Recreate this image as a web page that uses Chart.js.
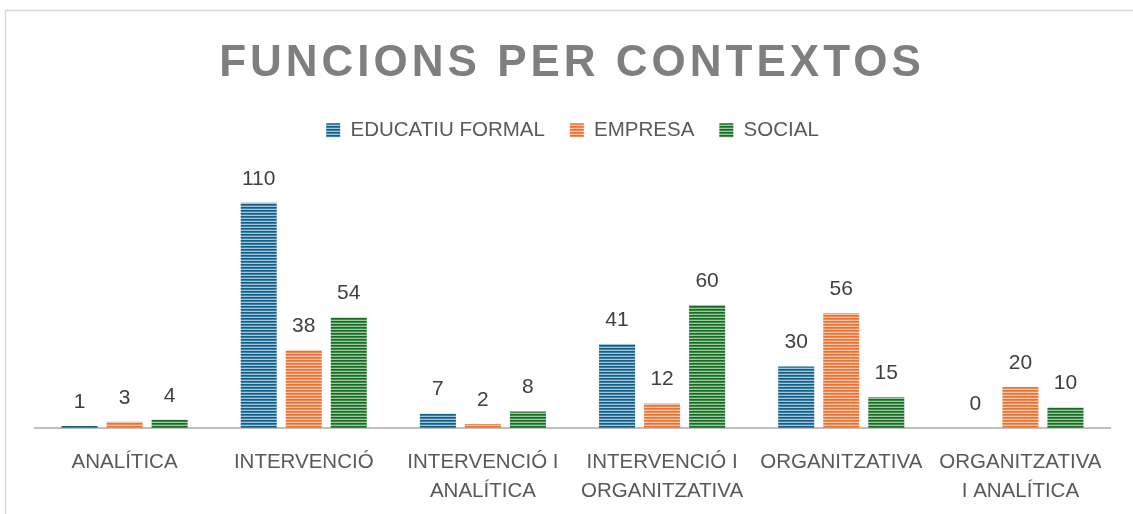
<!DOCTYPE html>
<html>
<head>
<meta charset="utf-8">
<script src="https://cdn.jsdelivr.net/npm/chart.js@4.4.1/dist/chart.umd.min.js"></script>
<style>
  html, body { margin: 0; padding: 0; background: #fff; }
  #wrap { width: 1133px; height: 514px; position: relative; }
</style>
</head>
<body>
<div id="wrap"><canvas id="myChart" width="1133" height="514"></canvas></div>
<script>
const titol = 'FUNCIONS PER CONTEXTOS';
const categories = [
    'ANALÍTICA',
    'INTERVENCIÓ',
    ['INTERVENCIÓ I', 'ANALÍTICA'],
    ['INTERVENCIÓ I', 'ORGANITZATIVA'],
    'ORGANITZATIVA',
    ['ORGANITZATIVA', 'I ANALÍTICA']
];
const series = ['EDUCATIU FORMAL', 'EMPRESA', 'SOCIAL'];
const educatiu = [1, 110, 7, 41, 30, 0];
const empresa = [3, 38, 2, 12, 56, 20];
const social = [4, 54, 8, 60, 15, 10];

const FONT = '"Liberation Sans", Arial, sans-serif';

// stripe pattern: dark / mid / light rows
function ratlles(dark, mid, light){
    const c = document.createElement('canvas');
    c.width = 4; c.height = 3;
    const g = c.getContext('2d');
    g.fillStyle = dark;  g.fillRect(0, 0, 4, 1);
    g.fillStyle = mid;   g.fillRect(0, 1, 4, 1);
    g.fillStyle = light; g.fillRect(0, 2, 4, 1);
    return g.createPattern(c, 'repeat');
}

const blau = ratlles('#156082', '#3f7fa3', '#9fc6dc');
const taronja = ratlles('#e97132', '#ee8a55', '#f8c6a8');
const verd = ratlles('#196b24', '#3f8a48', '#9dcaa3');

const vora = {
    id: 'vora',
    beforeDraw(chart){
        const ctx = chart.ctx;
        ctx.save();
        ctx.strokeStyle = '#d9d9d9';
        ctx.lineWidth = 1.5;
        ctx.strokeRect(5.5, 10.5, 1200, 600);
        ctx.restore();
    }
};

const titolPlugin = {
    id: 'titolPlugin',
    afterDraw(chart){
        const ctx = chart.ctx;
        ctx.save();
        ctx.font = 'bold 44px ' + FONT;
        ctx.letterSpacing = '4px';
        ctx.fillStyle = '#7f7f7f';
        ctx.textAlign = 'center';
        ctx.textBaseline = 'alphabetic';
        ctx.fillText(titol, 572, 76);
        ctx.restore();
    }
};

const etiquetes = {
    id: 'etiquetes',
    afterDatasetsDraw(chart){
        const ctx = chart.ctx;
        ctx.save();
        ctx.font = '21px ' + FONT;
        ctx.fillStyle = '#404040';
        ctx.textAlign = 'center';
        ctx.textBaseline = 'middle';
        chart.data.datasets.forEach((ds, i) => {
            const meta = chart.getDatasetMeta(i);
            meta.data.forEach((bar, j) => {
                ctx.fillText(String(ds.data[j]), bar.x, bar.y - 24);
            });
        });
        ctx.restore();
    }
};

const ctx = document.getElementById('myChart');
const myChart = new Chart(ctx, {
    type: 'bar',
    data: {
        labels: categories,
        datasets: [
            { label: series[0], data: educatiu, backgroundColor: blau, borderWidth: 0 },
            { label: series[1], data: empresa, backgroundColor: taronja, borderWidth: 0 },
            { label: series[2], data: social, backgroundColor: verd, borderWidth: 0 }
        ]
    },
    options: {
        responsive: false,
        animation: false,
        devicePixelRatio: 1,
        layout: { padding: { top: 95, left: 35, right: 23, bottom: 0 } },
        datasets: { bar: { categoryPercentage: 0.754, barPercentage: 0.8 } },
        plugins: {
            title: { display: false },
            tooltip: { enabled: false },
            legend: {
                position: 'top',
                labels: {
                    boxWidth: 14,
                    boxHeight: 14,
                    padding: 25,
                    color: '#595959',
                    font: { family: FONT, size: 20.5 }
                }
            }
        },
        scales: {
            x: {
                grid: { display: false },
                border: { display: true, color: '#bfbfbf', width: 2 },
                afterFit(scale){ scale.height = 86; },
                ticks: {
                    color: '#595959',
                    padding: 12,
                    maxRotation: 0,
                    autoSkip: false,
                    font: { family: FONT, size: 20.5, lineHeight: 1.41 }
                }
            },
            y: {
                display: false,
                min: 0,
                max: 135.5
            }
        }
    },
    plugins: [vora, titolPlugin, etiquetes]
});
</script>
</body>
</html>
